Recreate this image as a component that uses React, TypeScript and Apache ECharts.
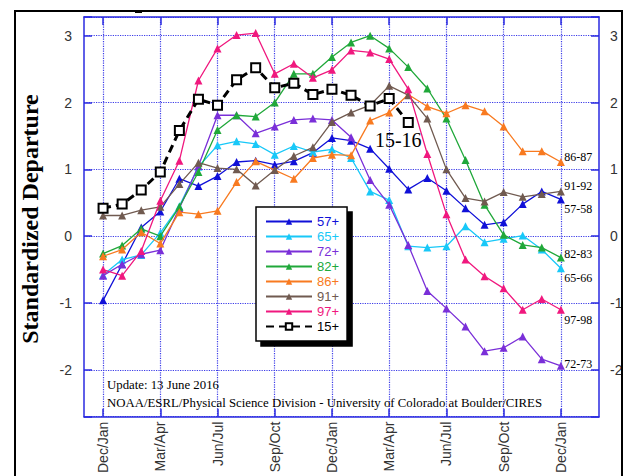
import React, { useEffect, useRef } from "react";
import * as echarts from "echarts";

// season cycle used for the x categories (25 points, Dec/Jan .. Dec/Jan)
const seasonCycle = ["Dec/Jan", "Jan/Feb", "Feb/Mar", "Mar/Apr", "Apr/May", "May/Jun", "Jun/Jul", "Jul/Aug", "Aug/Sep", "Sep/Oct", "Oct/Nov", "Nov/Dec"];
const pointCount = 25;
const seasons = Array.from({ length: pointCount }, (_, i) => seasonCycle[i % 12]);
const tickEvery = 3;

const names = ["57+", "65+", "72+", "82+", "86+", "91+", "97+", "15+"];
const endLabels = ["57-58", "65-66", "72-73", "82-83", "86-87", "91-92", "97-98", "15-16"];

const s57 = [-0.96, -0.42, 0.13, 0.37, 0.86, 0.75, 0.9, 1.11, 1.13, 1.07, 1.12, 1.25, 1.47, 1.43, 1.31, 1.01, 0.7, 0.87, 0.68, 0.42, 0.17, 0.21, 0.48, 0.67, 0.55];
const s65 = [-0.58, -0.35, -0.28, 0.05, 0.45, 1.04, 1.36, 1.42, 1.38, 1.22, 1.35, 1.26, 1.3, 1.17, 0.67, 0.54, -0.15, -0.17, -0.15, 0.15, -0.09, -0.04, 0.01, -0.2, -0.48];
const s72 = [-0.59, -0.42, -0.27, -0.21, 0.42, 1.05, 1.81, 1.81, 1.54, 1.64, 1.74, 1.76, 1.74, 1.48, 0.84, 0.47, -0.13, -0.82, -1.08, -1.35, -1.72, -1.67, -1.5, -1.84, -1.94];
const s82 = [-0.26, -0.14, 0.11, 0.0, 0.44, 0.96, 1.59, 1.81, 1.79, 2.0, 2.43, 2.43, 2.68, 2.9, 3.0, 2.81, 2.53, 2.21, 1.76, 1.14, 0.47, 0.02, -0.13, -0.17, -0.32];
const s86 = [-0.3, -0.2, 0.06, -0.11, 0.36, 0.33, 0.38, 0.81, 1.12, 0.99, 0.86, 1.17, 1.22, 1.21, 1.73, 1.85, 2.12, 1.94, 1.84, 1.96, 1.87, 1.64, 1.27, 1.27, 1.11];
const s91 = [0.31, 0.31, 0.39, 0.44, 0.78, 1.1, 1.02, 1.0, 0.76, 0.99, 1.2, 1.33, 1.71, 1.85, 1.96, 2.25, 2.11, 1.76, 1.0, 0.57, 0.52, 0.66, 0.59, 0.63, 0.67];
const s97 = [-0.5, -0.59, -0.22, 0.53, 1.13, 2.33, 2.81, 3.01, 3.04, 2.43, 2.58, 2.37, 2.49, 2.78, 2.75, 2.65, 2.2, 1.23, 0.33, -0.35, -0.6, -0.78, -1.1, -0.94, -1.1];
const s15 = [0.42, 0.48, 0.69, 0.96, 1.58, 2.05, 1.96, 2.34, 2.52, 2.22, 2.29, 2.12, 2.2, 2.11, 1.95, 2.06, 1.7];

const colors = ["#1010d8", "#18c8f8", "#7a2fd8", "#20a83a", "#f87a20", "#705a50", "#f0187e", "#000000"];
const labelOffsets: [number, number][] = [[3.5, 10], [3.5, 10], [3.5, -2], [3.5, -4], [3.5, -5], [3.5, -5], [3.5, 10], [-10, 17]];

const allSeries = [s57, s65, s72, s82, s86, s91, s97, s15];

export default function App() {
  const ref = useRef<HTMLDivElement>(null);
  useEffect(() => {
    if (!ref.current) return;
    const chart = echarts.init(ref.current, null, { renderer: "svg" });
    // categories: one padding slot before, two after
    const cats = ["p0", ...seasons.map((_, i) => "s" + i), "p1", "p2"];
    const labelFor: Record<string, string> = {};
    seasons.forEach((s, i) => (labelFor["s" + i] = s));
    const isTick = (idx: number) => idx >= 1 && idx <= pointCount && (idx - 1) % tickEvery === 0;

    const axisColor = "#2a2ae0";
    const gridColor = "#3c3ce8";

    const series = allSeries.map((arr, si) => {
      const last = arr.length - 1;
      const isBlack = si === 7;
      const data = [null as any, ...arr.map((v, i) =>
        i === last
          ? {
              value: v,
              label: {
                show: true,
                position: "inside",
                align: isBlack ? "center" : "left",
                verticalAlign: "middle",
                offset: labelOffsets[si],
                formatter: endLabels[si],
                color: "#000",
                fontFamily: "Liberation Serif",
                fontSize: isBlack ? 20 : 12,
              },
            }
          : v
      )];
      return {
        name: names[si],
        type: "line",
        data,
        symbol: isBlack ? "emptyRect" : "triangle",
        symbolSize: isBlack ? 9 : 8,
        showSymbol: true,
        color: colors[si],
        lineStyle: isBlack
          ? { color: "#000", width: 3, type: [8, 5] }
          : { color: colors[si], width: 1.3 },
        itemStyle: isBlack ? { color: "#000", borderWidth: 1.5 } : { color: colors[si] },
        z: 2 + si,
      };
    });

    const yCommon = {
      type: "value",
      min: -2.7,
      max: 3.28,
      axisLine: { show: true, lineStyle: { color: axisColor, width: 1.5 } },
      axisTick: { show: true, inside: true, length: 8, lineStyle: { color: axisColor, width: 1.5 } },
      axisLabel: {
        fontFamily: "Liberation Sans",
        fontSize: 14,
        color: "#333",
        margin: 12,
        formatter: (v: number) => (Math.abs(v - Math.round(v)) < 1e-9 ? String(Math.round(v)) : ""),
      },
    };

    chart.setOption({
      animation: false,
      backgroundColor: "#fff",
      grid: { left: 84, top: 17, right: 32, bottom: 56, containLabel: false },
      legend: {
        orient: "vertical",
        left: 256,
        top: 207,
        padding: [7, 8, 7, 9],
        itemWidth: 46,
        itemHeight: 8,
        itemGap: 0,
        selectedMode: false,
        backgroundColor: "#fff",
        borderColor: "#000",
        borderWidth: 1.5,
        shadowColor: "#000",
        shadowBlur: 0,
        shadowOffsetX: 5,
        shadowOffsetY: 5,
        textStyle: { fontFamily: "Liberation Sans", fontSize: 13, lineHeight: 15 },
        data: names.map((n, i) => ({ name: n, textStyle: { color: colors[i] } })),
        z: 20,
      },
      xAxis: [
        {
          type: "category",
          data: cats,
          boundaryGap: false,
          position: "bottom",
          axisLine: { show: true, onZero: false, lineStyle: { color: axisColor, width: 1.5 } },
          axisTick: { show: true, inside: true, length: 8, interval: (idx: number) => isTick(idx), lineStyle: { color: axisColor, width: 1.5 } },
          axisLabel: {
            rotate: 90,
            interval: (idx: number) => isTick(idx),
            formatter: (v: string) => labelFor[v] || "",
            fontFamily: "Liberation Sans",
            fontSize: 14,
            color: "#333",
            margin: 5,
          },
          splitLine: { show: true, interval: (idx: number) => isTick(idx), lineStyle: { color: gridColor, type: "dotted", width: 1.2 } },
        },
        {
          type: "category",
          data: cats,
          boundaryGap: false,
          position: "top",
          axisLine: { show: true, onZero: false, lineStyle: { color: axisColor, width: 1.5 } },
          axisTick: { show: true, inside: true, length: 8, interval: (idx: number) => isTick(idx), lineStyle: { color: axisColor, width: 1.5 } },
          axisLabel: { show: false },
          splitLine: { show: false },
        },
      ],
      yAxis: [
        {
          ...yCommon,
          position: "left",
          splitLine: { show: true, lineStyle: { color: gridColor, type: "dotted", width: 1.2 } },
        },
        {
          ...yCommon,
          position: "right",
          axisLabel: { ...yCommon.axisLabel, margin: 11 },
          splitLine: { show: false },
        },
      ],
      series,
      graphic: [
        { type: "rect", shape: { x: 15, y: 11, width: 607, height: 480 }, style: { fill: "none", stroke: "#000", lineWidth: 2 }, z: 100 },
        { type: "rect", shape: { x: 135, y: 10, width: 7, height: 3 }, style: { fill: "#000" }, z: 100 },
        {
          type: "text",
          x: 30,
          y: 219,
          rotation: Math.PI / 2,
          style: { text: "Standardized Departure", font: 'bold 24px "Liberation Serif"', fill: "#000", textAlign: "center", textVerticalAlign: "middle" },
          z: 100,
        },
        {
          type: "text",
          x: 107,
          y: 385,
          style: { text: "Update: 13 June 2016", font: '12.8px "Liberation Serif"', fill: "#000", textAlign: "left", textVerticalAlign: "middle" },
          z: 100,
        },
        {
          type: "text",
          x: 107,
          y: 403,
          style: { text: "NOAA/ESRL/Physical Science Division - University of Colorado at Boulder/CIRES", font: '12.8px "Liberation Serif"', fill: "#000", textAlign: "left", textVerticalAlign: "middle" },
          z: 100,
        },
      ],
    });
    return () => chart.dispose();
  }, []);
  return <div ref={ref} style={{ position: "fixed", left: 0, top: 0, width: 631, height: 476, background: "#fff" }} />;
}
